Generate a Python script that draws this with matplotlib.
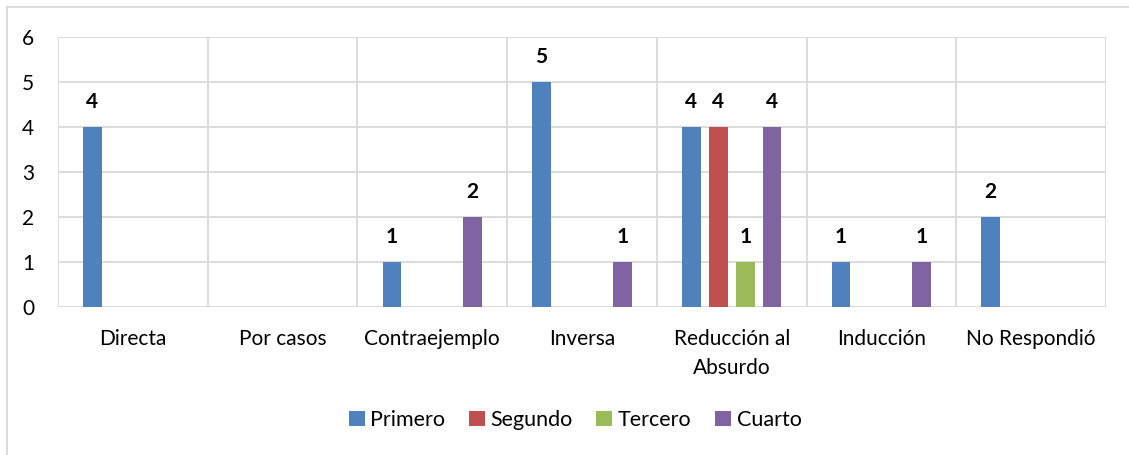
import numpy as np
import matplotlib.pyplot as plt
from matplotlib.lines import Line2D

plt.rcParams['font.family'] = ['Lato', 'DejaVu Sans']

categorias = ['Directa', 'Por casos', 'Contraejemplo', 'Inversa',
              'Reducción al\nAbsurdo', 'Inducción', 'No Respondió']
series = ['Primero', 'Segundo', 'Tercero', 'Cuarto']
primero = [4, 0, 1, 5, 4, 1, 2]
segundo = [0, 0, 0, 0, 4, 0, 0]
tercero = [0, 0, 0, 0, 1, 0, 0]
cuarto = [0, 0, 2, 1, 4, 1, 0]
colores = ['#4F81BD', '#C0504D', '#9BBB59', '#8064A2']

valores = [primero, segundo, tercero, cuarto]
x = np.arange(len(categorias))
ancho = 0.125
paso = 0.18
fs = 15

fig = plt.figure(figsize=(11.29, 4.55), dpi=100)
ax = fig.add_axes([58 / 1129, 1 - 307 / 455, (1106 - 58) / 1129, (307 - 37) / 455])

grid = '#D9D9D9'
for y in range(0, 7):
    ax.axhline(y, color=grid, lw=1.3, zorder=0)
for b in np.arange(-0.5, len(categorias), 1.0):
    ax.axvline(b, color=grid, lw=1.3, zorder=0)

for i, (nombre, vals, c) in enumerate(zip(series, valores, colores)):
    pos = x + (i - 1.5) * paso
    ax.bar(pos, vals, width=ancho, color=c, label=nombre, zorder=2)
    for p, v in zip(pos, vals):
        if v > 0:
            ax.annotate(str(v), (p, v), xytext=(0, 11), textcoords='offset points',
                        ha='center', va='bottom', fontsize=fs, fontweight='bold',
                        color='black')

ax.set_xlim(-0.5, len(categorias) - 0.5)
ax.set_ylim(0, 6)
ax.set_yticks(range(0, 7))
ax.set_xticks(x)
ax.set_xticklabels(categorias, linespacing=1.55)
ax.tick_params(axis='both', length=0, labelsize=fs, colors='black')
ax.tick_params(axis='x', pad=16)
ax.tick_params(axis='y', pad=26)
for lbl in ax.get_yticklabels():
    lbl.set_horizontalalignment('left')
for s in ax.spines.values():
    s.set_visible(False)

fig.legend(loc='center', bbox_to_anchor=(575 / 1129, 1 - 420 / 455), ncol=4,
           frameon=False, fontsize=15.5, handlelength=0.75, handleheight=0.75,
           handletextpad=0.25, columnspacing=1.1)

# marco exterior del gráfico
fig.add_artist(Line2D([7 / 1129, 7 / 1129], [0, 1 - 7 / 455],
                      transform=fig.transFigure, color=grid, lw=1.3))
fig.add_artist(Line2D([7 / 1129, 1], [1 - 7 / 455, 1 - 7 / 455],
                      transform=fig.transFigure, color=grid, lw=1.3))

fig.savefig('out.png', dpi=100)
